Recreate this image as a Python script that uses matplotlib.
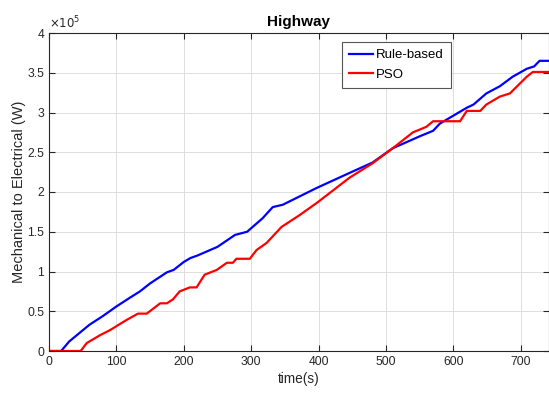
import matplotlib
matplotlib.use('Agg')
from matplotlib import pyplot as plt
from matplotlib.ticker import FormatStrFormatter

plt.rcParams['font.family'] = ['Liberation Sans', 'DejaVu Sans']

# Rule-based: time (s), power (x1e5 W)
t_rule = [0, 18, 30, 50, 60, 80, 100, 120, 135, 150, 175, 185, 200, 210, 220, 250,
          276, 294, 317, 332, 347, 397, 446, 480, 510, 550, 570, 580, 600, 620,
          630, 649, 669, 688, 709, 720, 728, 742]
p_rule = [0, 0, 0.12, 0.26, 0.33, 0.44, 0.56, 0.67, 0.75, 0.85, 0.99, 1.02, 1.12, 1.17, 1.2, 1.31,
          1.46, 1.5, 1.67, 1.81, 1.84, 2.05, 2.24, 2.37, 2.55, 2.7, 2.77, 2.86, 2.96, 3.06,
          3.1, 3.24, 3.33, 3.45, 3.55, 3.58, 3.65, 3.65]

# PSO: time (s), power (x1e5 W)
t_pso = [0, 47, 56, 76, 90, 115, 132, 145, 165, 175, 184, 194, 209, 219, 231, 249,
         264, 273, 278, 298, 308, 323, 345, 372, 397, 446, 480, 510, 540, 560,
         570, 610, 620, 640, 649, 669, 684, 709, 718, 742]
p_pso = [0, 0, 0.1, 0.2, 0.26, 0.39, 0.47, 0.47, 0.6, 0.6, 0.65, 0.75, 0.8, 0.8, 0.96, 1.02,
         1.11, 1.11, 1.16, 1.16, 1.27, 1.36, 1.56, 1.71, 1.86, 2.18, 2.36, 2.55, 2.75, 2.82,
         2.89, 2.89, 3.02, 3.02, 3.1, 3.2, 3.24, 3.45, 3.51, 3.51]

fig = plt.figure(figsize=(5.49, 3.94), dpi=100)
ax = fig.add_axes([49 / 549, 1 - 351 / 394, 1 - 49 / 549, (351 - 33) / 394])

ax.plot(t_rule, p_rule, color='#0000ff', lw=1.6, label='Rule-based')
ax.plot(t_pso, p_pso, color='#ff0000', lw=1.6, label='PSO')

ax.set_xlim(0, 742)
ax.set_ylim(0, 4)
ax.set_xticks(range(0, 701, 100))
ax.set_yticks([0, 0.5, 1, 1.5, 2, 2.5, 3, 3.5, 4])
ax.yaxis.set_major_formatter(FormatStrFormatter('%g'))
ax.grid(True, color='#dedede', lw=0.7)
ax.tick_params(direction='in', top=True, right=True, labelsize=8.7, colors='#262626',
               length=4, width=0.8)
for s in ax.spines.values():
    s.set_color('#262626')
    s.set_linewidth(0.8)

ax.set_xlabel('time(s)', fontsize=9.8, color='#262626', labelpad=3)
ax.set_ylabel('Mechanical to Electrical (W)', fontsize=10.5, color='#262626', labelpad=1)
ax.set_title('Highway', fontsize=11, fontweight='bold', pad=5)
ax.text(0.0, 1.005, r'$\times10^5$', transform=ax.transAxes, fontsize=8.5,
        color='#262626', ha='left', va='bottom')

leg = ax.legend(loc='upper left', bbox_to_anchor=(0.586, 0.972), fontsize=9.5,
                fancybox=False, framealpha=1, edgecolor='#555555', borderaxespad=0,
                handlelength=1.8, borderpad=0.55, labelspacing=0.55, handletextpad=0.2)
leg.get_frame().set_linewidth(0.8)

fig.savefig('out.png', dpi=100)
